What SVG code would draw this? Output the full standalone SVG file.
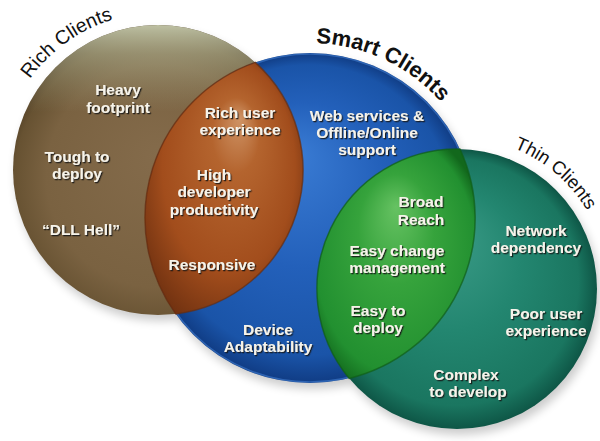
<svg xmlns="http://www.w3.org/2000/svg" width="600" height="441" viewBox="0 0 600 441">
  <defs>
    <style>
      .body { font-family: "Liberation Sans", Arial, sans-serif; font-weight: bold; font-size: 15.5px; fill: #f6f3ea; text-anchor: middle; }
      .set { font-family: "Liberation Sans", Arial, sans-serif; fill: #111; }
      .rim { fill: none; stroke-width: 1.5; }
    </style>
    <filter id="soft" x="-20%" y="-20%" width="140%" height="140%">
      <feGaussianBlur stdDeviation="5"/>
    </filter>
    <filter id="emboss" x="-10%" y="-30%" width="120%" height="160%">
      <feDropShadow dx="1.2" dy="1.2" stdDeviation="0.7" flood-color="#151515" flood-opacity="0.9"/>
    </filter>
    <radialGradient id="brownFill" cx="0.5" cy="0.55" r="0.55" fx="0.5" fy="0.45">
      <stop offset="0" stop-color="#846b4b"/>
      <stop offset="0.7" stop-color="#7a6241"/>
      <stop offset="0.9" stop-color="#675232"/>
      <stop offset="1" stop-color="#4c3a22"/>
    </radialGradient>
    <linearGradient id="brownGloss" x1="0" y1="0" x2="0" y2="1">
      <stop offset="0" stop-color="#c4c8aa" stop-opacity="0.95"/>
      <stop offset="0.1" stop-color="#b0b292" stop-opacity="0.6"/>
      <stop offset="0.3" stop-color="#a0a080" stop-opacity="0"/>
    </linearGradient>
    <radialGradient id="lensBrown" cx="0.5" cy="0.5" r="0.6" fx="0.6" fy="0.22">
      <stop offset="0" stop-color="#cf9466"/>
      <stop offset="0.25" stop-color="#b4642e"/>
      <stop offset="0.7" stop-color="#a24d1c"/>
      <stop offset="1" stop-color="#6e3010"/>
    </radialGradient>
    <radialGradient id="blueFill" cx="0.5" cy="0.5" r="0.5" fx="0.45" fy="0.3">
      <stop offset="0" stop-color="#3a7cd4"/>
      <stop offset="0.5" stop-color="#2360ba"/>
      <stop offset="0.88" stop-color="#1a54a8"/>
      <stop offset="1" stop-color="#103c84"/>
    </radialGradient>
    <radialGradient id="lensGreen" cx="0.5" cy="0.5" r="0.6" fx="0.5" fy="0.25">
      <stop offset="0" stop-color="#66c262"/>
      <stop offset="0.4" stop-color="#36a33c"/>
      <stop offset="0.85" stop-color="#229030"/>
      <stop offset="1" stop-color="#12681c"/>
    </radialGradient>
    <radialGradient id="tealFill" cx="0.5" cy="0.5" r="0.5" fx="0.45" fy="0.3">
      <stop offset="0" stop-color="#3c9c88"/>
      <stop offset="0.5" stop-color="#238670"/>
      <stop offset="0.88" stop-color="#1a7660"/>
      <stop offset="1" stop-color="#0e5646"/>
    </radialGradient>
    <path id="arcRich" d="M30 79.1 A157 157 0 0 1 236.5 34"/>
    <path id="arcSmart" d="M316.1 43.1 A175 175 0 0 1 474.4 158.2"/>
    <path id="arcThin" d="M513.9 148.1 A152 152 0 0 1 606.7 262.6"/>
  </defs>

  <!-- soft cast shadows under the three sets -->
  <g id="shadows" filter="url(#soft)" fill="#000" opacity="0.2">
    <circle cx="161" cy="176" r="145"/>
    <circle cx="313" cy="224" r="165"/>
    <circle cx="460" cy="295" r="140"/>
  </g>

  <g id="rich-clients">
    <circle cx="158" cy="170" r="145" fill="url(#brownFill)"/>
    <circle cx="158" cy="170" r="145" fill="url(#brownGloss)"/>
    <text class="set" font-size="19.5"><textPath href="#arcRich">Rich Clients</textPath></text>
  </g>

  <g id="smart-clients">
    <circle cx="310" cy="218" r="165" fill="url(#blueFill)"/>
    <circle cx="310" cy="218" r="164" fill="none" stroke="#4a8ae0" stroke-width="1.5" opacity="0.5"/>
    <text class="set" font-size="22" font-weight="bold"><textPath href="#arcSmart">Smart Clients</textPath></text>
  </g>

  <g id="thin-clients">
    <circle cx="457" cy="289" r="140" fill="url(#tealFill)"/>
    <text class="set" font-size="18.5"><textPath href="#arcThin">Thin Clients</textPath></text>
  </g>

  <!-- overlap of rich and smart -->
  <g id="rich-smart">
    <path d="M255.2 62.4 A145 145 0 0 1 175.7 313.9 A165 165 0 0 1 255.2 62.4 Z" fill="url(#lensBrown)"/>
    <path class="rim" d="M255.2 62.4 A145 145 0 0 1 175.7 313.9 A165 165 0 0 1 255.2 62.4 Z" stroke="#6a2c0c" opacity="0.7"/>
  </g>

  <!-- overlap of smart and thin -->
  <g id="smart-thin">
    <path d="M460 149 A165 165 0 0 1 349.2 378.4 A140 140 0 0 1 460 149 Z" fill="url(#lensGreen)"/>
    <path class="rim" d="M460 149 A165 165 0 0 1 349.2 378.4 A140 140 0 0 1 460 149 Z" stroke="#0f5e18" opacity="0.7"/>
  </g>

  <g id="labels" class="body" filter="url(#emboss)">
    <text x="118" y="95">Heavy</text>
    <text x="118" y="113">footprint</text>
    <text x="77" y="162">Tough to</text>
    <text x="77" y="179">deploy</text>
    <text x="81" y="235">“DLL Hell”</text>

    <text x="240" y="118">Rich user</text>
    <text x="240" y="135">experience</text>
    <text x="214" y="180">High</text>
    <text x="214" y="197">developer</text>
    <text x="214" y="215">productivity</text>
    <text x="212" y="270">Responsive</text>

    <text x="367" y="121">Web services &amp;</text>
    <text x="367" y="138">Offline/Online</text>
    <text x="367" y="155">support</text>
    <text x="268" y="335">Device</text>
    <text x="268" y="352">Adaptability</text>

    <text x="421" y="207">Broad</text>
    <text x="421" y="225">Reach</text>
    <text x="397" y="256">Easy change</text>
    <text x="397" y="273">management</text>
    <text x="378" y="316">Easy to</text>
    <text x="378" y="333">deploy</text>

    <text x="536" y="236">Network</text>
    <text x="536" y="253">dependency</text>
    <text x="546" y="319">Poor user</text>
    <text x="546" y="336">experience</text>
    <text x="466" y="380">Complex</text>
    <text x="468" y="397">to develop</text>
  </g>
</svg>
